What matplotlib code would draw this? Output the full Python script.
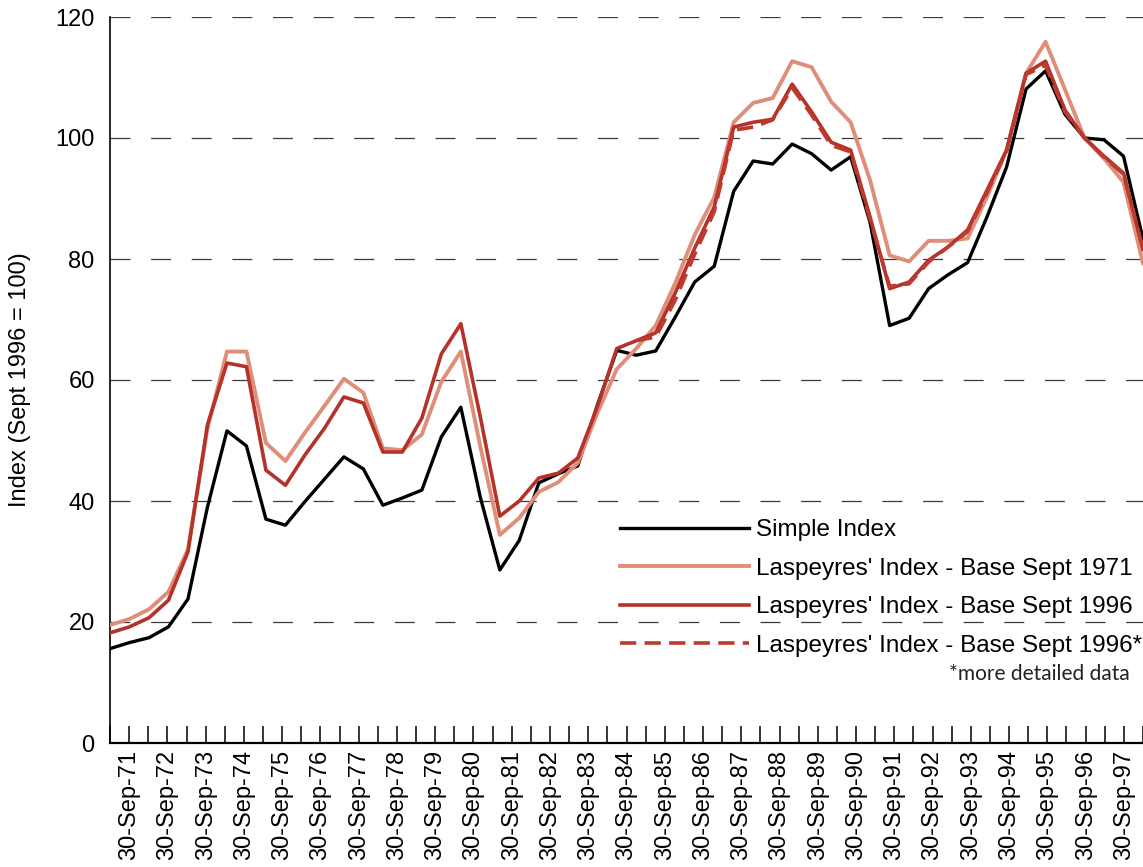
import numpy as np
import matplotlib.pyplot as plt
from matplotlib.lines import Line2D

plt.rcParams['font.family'] = ['Liberation Sans', 'DejaVu Sans']

# Half-yearly observations, Mar-71 ... Sep-97 (54 points)
simple_index = [15.6, 16.6, 17.4, 19.2, 23.8, 39.0, 51.6, 49.1, 37.0, 36.0,
                39.9, 43.6, 47.3, 45.3, 39.3, 40.5, 41.8, 50.6, 55.5, 40.6,
                28.6, 33.5, 43.0, 44.5, 45.8, 55.8, 64.9, 64.1, 64.8, 70.4,
                76.2, 78.8, 91.2, 96.2, 95.7, 99.0, 97.4, 94.7, 96.9, 86.0,
                69.0, 70.2, 75.1, 77.4, 79.4, 87.0, 95.2, 108.1, 111.1, 103.9,
                100.0, 99.7, 97.0, 83.3]

lasp_1971 = [19.5, 20.5, 22.1, 25.0, 32.0, 52.0, 64.7, 64.7, 49.6, 46.6,
             51.3, 55.7, 60.2, 57.9, 48.7, 48.4, 51.0, 59.7, 64.7, 49.0,
             34.4, 37.2, 41.5, 43.1, 46.3, 54.5, 61.8, 65.2, 69.0, 76.0,
             84.0, 90.2, 102.6, 105.8, 106.6, 112.7, 111.7, 106.0, 102.6, 93.0,
             80.6, 79.6, 83.0, 83.0, 83.4, 90.3, 98.0, 110.7, 115.9, 108.0,
             100.0, 96.6, 92.7, 79.3]

lasp_1996 = [18.2, 19.2, 20.7, 23.6, 31.6, 52.6, 62.8, 62.2, 45.1, 42.6,
             47.6, 52.0, 57.2, 56.2, 48.1, 48.1, 53.7, 64.3, 69.3, 53.9,
             37.5, 40.0, 43.8, 44.6, 47.1, 55.5, 65.2, 66.5, 67.8, 74.4,
             81.8, 88.6, 101.8, 102.6, 103.1, 108.9, 104.3, 99.3, 98.0, 86.9,
             75.1, 76.2, 79.8, 82.0, 84.8, 91.4, 98.0, 110.7, 112.7, 104.6,
             100.0, 97.0, 94.2, 81.6]

# more detailed data, only from Sep-84 on
lasp_1996_detail_start = 27
lasp_1996_detail = [66.5, 67.1, 73.2, 80.8, 87.8, 101.3, 101.8, 103.0, 108.3, 103.8,
                    98.8, 97.7, 86.5, 75.5, 75.9, 79.5, 82.0, 84.5, 91.0, 97.8,
                    110.5, 112.0, 104.3, 100.0, 96.8, 94.0, 81.6]

tick_labels = ['30-Sep-71', '30-Sep-72', '30-Sep-73', '30-Sep-74', '30-Sep-75',
               '30-Sep-76', '30-Sep-77', '30-Sep-78', '30-Sep-79', '30-Sep-80',
               '30-Sep-81', '30-Sep-82', '30-Sep-83', '30-Sep-84', '30-Sep-85',
               '30-Sep-86', '30-Sep-87', '30-Sep-88', '30-Sep-89', '30-Sep-90',
               '30-Sep-91', '30-Sep-92', '30-Sep-93', '30-Sep-94', '30-Sep-95',
               '30-Sep-96', '30-Sep-97']

c_black = '#000000'
c_light = '#DF8E7A'
c_red = '#B5322A'
c_dash = '#BE3A2D'

n = len(simple_index)
x = np.arange(n)
x_detail = np.arange(lasp_1996_detail_start, lasp_1996_detail_start + len(lasp_1996_detail))

fig = plt.figure(figsize=(11.43, 8.67), dpi=100)
ax = fig.add_axes([110/1143, 124/867, 1033/1143, 726/867])

ax.plot(x, simple_index, color=c_black, lw=2.4, zorder=3)
ax.plot(x, lasp_1971, color=c_light, lw=2.8, zorder=3)
ax.plot(x, lasp_1996, color=c_red, lw=2.6, zorder=3)
ax.plot(x_detail, lasp_1996_detail, color=c_dash, lw=2.6, linestyle=(0, (4.5, 2.3)), zorder=3)

ax.set_xlim(0, n - 1)
ax.set_ylim(0, 120)

# 55 tick marks spread over the axis, label every second one
n_ticks = 2 * len(tick_labels) + 1
tick_pos = np.arange(n_ticks) * (n - 1) / (n_ticks - 1)
labels = []
for k in range(n_ticks):
    labels.append(tick_labels[k // 2] if k % 2 == 1 else '')
ax.set_xticks(tick_pos)
ax.set_xticklabels(labels, rotation=90, fontsize=17)
ax.tick_params(axis='x', direction='in', length=12, width=1.1, pad=5, colors='black')

ax.set_yticks(np.arange(0, 121, 20))
ax.tick_params(axis='y', length=0, pad=11, labelsize=17)
ax.yaxis.grid(True, color='#3a3a3a', lw=0.9, linestyle=(0, (16, 16.5)))
ax.set_axisbelow(True)

ax.spines['top'].set_visible(False)
ax.spines['right'].set_visible(False)
ax.spines['left'].set_linewidth(1.2)
ax.spines['bottom'].set_linewidth(1.6)

ax.set_ylabel('Index (Sept 1996 = 100)', fontsize=17)
ax.yaxis.set_label_coords(-0.076, 0.5)

handles = [
    Line2D([], [], color=c_black, lw=2.4),
    Line2D([], [], color=c_light, lw=2.8),
    Line2D([], [], color=c_red, lw=2.6),
    Line2D([], [], color=c_dash, lw=2.6, linestyle=(0, (4.5, 2.3))),
]
names = ['Simple Index', "Laspeyres' Index - Base Sept 1971",
         "Laspeyres' Index - Base Sept 1996", "Laspeyres' Index - Base Sept 1996*"]
fig.legend(handles, names, loc='upper left', bbox_to_anchor=(620/1143, 1 - 519/867),
           frameon=False, fontsize=17.5, handlelength=5.3, handletextpad=0.3,
           labelspacing=0.68, borderpad=0, borderaxespad=0)

fig.text(1130/1143, 1 - 674/867, '*more detailed data', ha='right', va='center',
         fontsize=15, family='Lato', color='#222222')

fig.savefig('out.png', dpi=100)
